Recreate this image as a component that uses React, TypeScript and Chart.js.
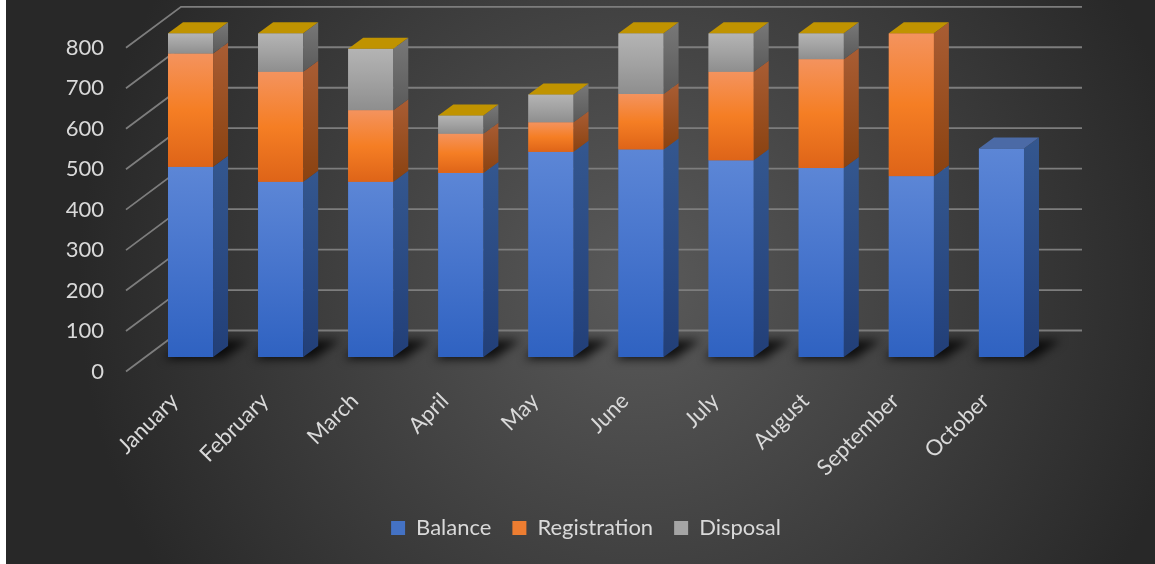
import React, { useEffect, useRef } from "react";
import { Chart, registerables } from "chart.js";

Chart.register(...registerables);

const months = ["January", "February", "March", "April", "May", "June", "July", "August", "September", "October"];
const balance = [470, 433, 433, 455, 507, 513, 486, 467, 447, 515];
const registration = [280, 272, 177, 97, 73, 137, 219, 269, 353, null];
const disposal = [50, 95, 152, 45, 69, 150, 95, 64, 0, null];
const seriesNames = ["Balance", "Registration", "Disposal"];

const FONT = "Lato, 'Open Sans', sans-serif";
const TEXT = "#d9d9d9";
const GRID = "#7d7d7d";

// oblique 3D geometry (pixels)
const BAR_DX = 15, BAR_DY = -11;
const WALL_DX = 35.5, WALL_DY = -26.5;
const FRONT_DX = -19.5, FRONT_DY = 14.5;

const FLAT = ["#4472C4", "#ED7D31", "#A5A5A5"];
const FRONT = [
  ["#5c86d6", "#4674cc", "#2f62c1"],
  ["#f4935e", "#f57e24", "#de6418"],
  ["#b4b4b4", "#a2a2a2", "#8e8e8e"],
];
const SIDE = [
  ["#34578f", "#223f78"],
  ["#a95d34", "#8a4210"],
  ["#787878", "#5a5a5a"],
];
const CAP = ["#4b6aa6", "#c0692c", "#c09300"];

const threeD = {
  id: "threeD",
  beforeDraw(chart: any) {
    const { ctx, width, height } = chart;
    const cx = width * 0.55, cy = height * 0.5;
    const g = ctx.createRadialGradient(cx, cy, 0, cx, cy, 560);
    g.addColorStop(0, "#5a5a5a");
    g.addColorStop(1, "#282828");
    ctx.save();
    ctx.fillStyle = g;
    ctx.fillRect(0, 0, width, height);
    ctx.restore();
  },
  beforeDatasetsDraw(chart: any) {
    const { ctx, chartArea, scales } = chart;
    const y = scales.y;
    ctx.save();
    ctx.strokeStyle = GRID;
    ctx.lineWidth = 1.8;
    y.ticks.forEach((t: any) => {
      const py = y.getPixelForValue(t.value);
      ctx.beginPath();
      ctx.moveTo(chartArea.left + FRONT_DX, py + FRONT_DY);
      ctx.lineTo(chartArea.left + WALL_DX, py + WALL_DY);
      ctx.lineTo(chartArea.right + WALL_DX, py + WALL_DY);
      ctx.stroke();
    });
    // floor shadows
    const meta0 = chart.getDatasetMeta(0);
    meta0.data.forEach((el: any) => {
      const p = el.getProps(["x", "base", "width"], true);
      const x0 = p.x - p.width / 2, x1 = p.x + p.width / 2;
      ctx.save();
      ctx.filter = "blur(5px)";
      ctx.fillStyle = "rgba(0,0,0,0.8)";
      ctx.beginPath();
      ctx.moveTo(x0 - 4, p.base + 2);
      ctx.lineTo(x1 + 10, p.base + 2);
      ctx.lineTo(x1 + BAR_DX + 22, p.base + BAR_DY - 6);
      ctx.lineTo(x0 + BAR_DX, p.base + BAR_DY - 6);
      ctx.closePath();
      ctx.fill();
      ctx.restore();
    });
    ctx.restore();
  },
  afterDatasetsDraw(chart: any) {
    const { ctx } = chart;
    const n = chart.data.labels.length;
    const topIdx: number[] = new Array(n).fill(-1);
    ctx.save();
    chart.data.datasets.forEach((ds: any, d: number) => {
      const meta = chart.getDatasetMeta(d);
      meta.data.forEach((el: any, i: number) => {
        if (ds.data[i] === null || ds.data[i] === undefined) return;
        topIdx[i] = d;
        const p = el.getProps(["x", "y", "base", "width"], true);
        const x0 = p.x - p.width / 2, x1 = p.x + p.width / 2;
        const top = Math.min(p.y, p.base), bot = Math.max(p.y, p.base);
        if (bot - top < 0.3) return;
        const gf = ctx.createLinearGradient(0, top, 0, bot);
        gf.addColorStop(0, FRONT[d][0]);
        gf.addColorStop(0.5, FRONT[d][1]);
        gf.addColorStop(1, FRONT[d][2]);
        ctx.fillStyle = gf;
        ctx.fillRect(x0, top, x1 - x0, bot - top);
        const gs = ctx.createLinearGradient(0, top + BAR_DY, 0, bot);
        gs.addColorStop(0, SIDE[d][0]);
        gs.addColorStop(1, SIDE[d][1]);
        ctx.fillStyle = gs;
        ctx.beginPath();
        ctx.moveTo(x1, top);
        ctx.lineTo(x1 + BAR_DX, top + BAR_DY);
        ctx.lineTo(x1 + BAR_DX, bot + BAR_DY);
        ctx.lineTo(x1, bot);
        ctx.closePath();
        ctx.fill();
      });
    });
    topIdx.forEach((d, i) => {
      if (d < 0) return;
      const el = chart.getDatasetMeta(d).data[i];
      const p = el.getProps(["x", "y", "width"], true);
      const x0 = p.x - p.width / 2, x1 = p.x + p.width / 2;
      ctx.fillStyle = CAP[d];
      ctx.beginPath();
      ctx.moveTo(x0, p.y);
      ctx.lineTo(x1, p.y);
      ctx.lineTo(x1 + BAR_DX, p.y + BAR_DY);
      ctx.lineTo(x0 + BAR_DX, p.y + BAR_DY);
      ctx.closePath();
      ctx.fill();
    });
    ctx.restore();
  },
};

export default function App() {
  const ref = useRef<HTMLCanvasElement | null>(null);
  useEffect(() => {
    if (!ref.current) return;
    const seriesData = [balance, registration, disposal];
    const chart = new Chart(ref.current, {
      type: "bar",
      data: {
        labels: months,
        datasets: seriesNames.map((name, d) => ({
          label: name,
          data: seriesData[d],
          backgroundColor: FLAT[d],
          borderWidth: 0,
          barPercentage: 0.5,
          categoryPercentage: 1,
        })),
      },
      options: {
        responsive: false,
        animation: false,
        devicePixelRatio: 1,
        layout: { padding: { left: 39.5, right: 28.5, top: 33.3, bottom: 15 } },
        plugins: {
          legend: {
            position: "bottom",
            labels: {
              color: TEXT,
              font: { family: FONT, size: 22 },
              boxWidth: 14,
              boxHeight: 14,
              padding: 21,
            },
          },
          tooltip: { enabled: false },
        },
        scales: {
          x: {
            stacked: true,
            grid: { display: false, drawTicks: false },
            border: { display: false },
            ticks: {
              color: TEXT,
              font: { family: FONT, size: 22 },
              minRotation: 45,
              maxRotation: 45,
              labelOffset: -16,
              padding: 31,
              autoSkip: false,
            },
            afterFit: (s: any) => { s.height = 139; },
          },
          y: {
            stacked: true,
            min: 0,
            max: 800,
            grid: { display: false, drawTicks: false },
            border: { display: false },
            ticks: {
              stepSize: 100,
              color: TEXT,
              font: { family: FONT, size: 22 },
              padding: 41.5,
              labelOffset: 14.5,
            },
            afterFit: (s: any) => {
              s.width = 100;
              s.paddingTop = 0;
              s.paddingBottom = 0;
            },
          },
          yRight: {
            type: "linear",
            position: "right",
            grid: { display: false, drawTicks: false },
            border: { display: false },
            ticks: { display: false },
            afterFit: (s: any) => {
              s.width = 80;
              s.paddingTop = 0;
              s.paddingBottom = 0;
            },
          },
        },
      },
      plugins: [threeD],
    });
    return () => chart.destroy();
  }, []);
  return (
    <div style={{ position: "absolute", left: 6, top: 0, width: 1149, height: 564, overflow: "hidden" }}>
      <canvas ref={ref} width={1149} height={564} style={{ display: "block" }} />
    </div>
  );
}
